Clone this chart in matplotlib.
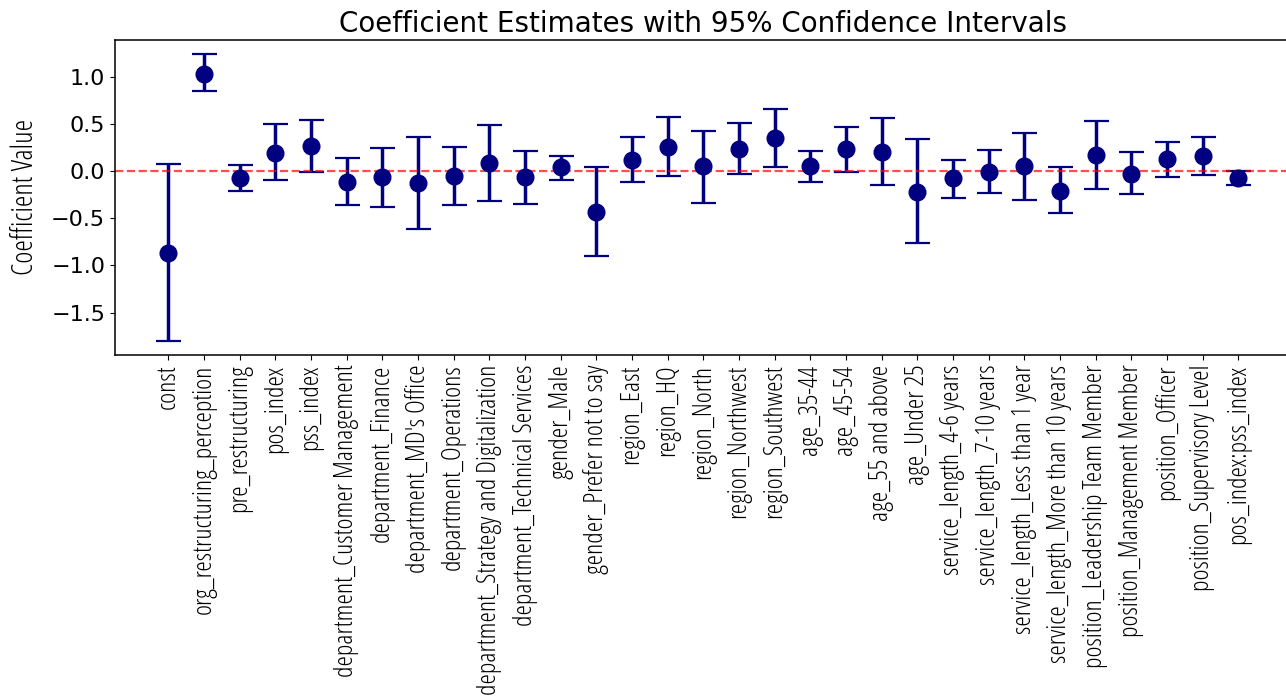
import numpy as np
import matplotlib.pyplot as plt

# regression terms and their estimates with 95% CI bounds
terms = ['const', 'org_restructuring_perception', 'pre_restructuring', 'pos_index', 'pss_index',
         'department_Customer Management', 'department_Finance', "department_MD's Office",
         'department_Operations', 'department_Strategy and Digitalization',
         'department_Technical Services', 'gender_Male', 'gender_Prefer not to say',
         'region_East', 'region_HQ', 'region_North', 'region_Northwest', 'region_Southwest',
         'age_35-44', 'age_45-54', 'age_55 and above', 'age_Under 25',
         'service_length_4-6 years', 'service_length_7-10 years',
         'service_length_Less than 1 year', 'service_length_More than 10 years',
         'position_Leadership Team Member', 'position_Management Member',
         'position_Officer', 'position_Supervisory Level', 'pos_index:pss_index']

coef = [-0.869, 1.035, -0.071, 0.191, 0.270, -0.113, -0.060, -0.124, -0.050, 0.082, -0.060,
        0.039, -0.433, 0.117, 0.259, 0.053, 0.234, 0.348, 0.053, 0.234, 0.206, -0.220,
        -0.071, -0.011, 0.053, -0.206, 0.170, -0.025, 0.131, 0.156, -0.074]
ci_low = [-1.798, 0.848, -0.206, -0.099, -0.011, -0.355, -0.379, -0.613, -0.355, -0.319, -0.344,
          -0.089, -0.897, -0.117, -0.050, -0.333, -0.035, 0.039, -0.117, -0.007, -0.152, -0.762,
          -0.280, -0.230, -0.309, -0.447, -0.191, -0.241, -0.064, -0.039, -0.149]
ci_high = [0.074, 1.241, 0.064, 0.496, 0.539, 0.142, 0.245, 0.358, 0.255, 0.486, 0.216,
           0.163, 0.043, 0.358, 0.574, 0.426, 0.511, 0.663, 0.216, 0.472, 0.560, 0.337,
           0.117, 0.220, 0.408, 0.043, 0.528, 0.202, 0.309, 0.358, 0.000]

coef = np.array(coef)
yerr = [coef - np.array(ci_low), np.array(ci_high) - coef]
x = np.arange(len(terms))

narrow = dict(family='Open Sans', fontstretch='condensed', fontweight='medium')

fig = plt.figure(figsize=(12.86, 7), dpi=100)
ax = fig.add_axes([0.0894, 0.493, 0.915, 0.45])

ax.errorbar(x, coef, yerr=yerr, fmt='o', color='navy', ecolor='navy',
            markersize=12, elinewidth=2.5, capsize=9, capthick=1.6)
ax.axhline(0, color='red', linestyle='--', linewidth=1.6, alpha=0.7)

ax.set_xticks(x)
ax.set_xticklabels(terms, rotation=90, fontsize=19, **narrow)
ax.tick_params(axis='y', labelsize=16)
ax.set_ylabel('Coefficient Value', fontsize=21, labelpad=8, **narrow)
ax.set_title('Coefficient Estimates with 95% Confidence Intervals', fontsize=20)
for s in ax.spines.values():
    s.set_linewidth(1.1)

fig.savefig('out.png', dpi=100)
